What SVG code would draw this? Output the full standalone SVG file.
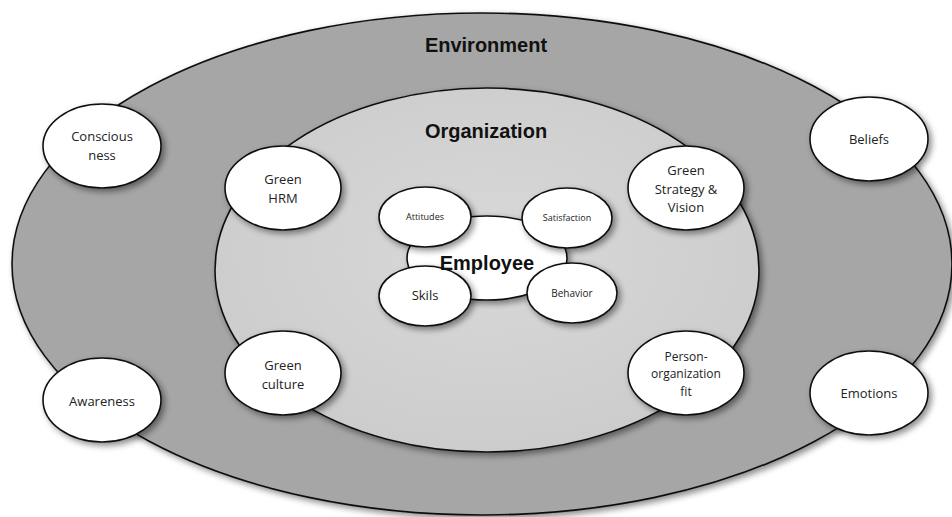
<svg xmlns="http://www.w3.org/2000/svg" width="952" height="517" viewBox="0 0 952 517">
<defs>
<filter id="sh" x="-20%" y="-20%" width="150%" height="150%">
<feDropShadow dx="3" dy="3" stdDeviation="3" flood-color="#000" flood-opacity="0.45"/>
</filter>
<radialGradient id="orgFill" cx="50%" cy="45%" r="60%">
<stop offset="0" stop-color="#d9d9d9"/>
<stop offset="1" stop-color="#cbcbcb"/>
</radialGradient>
</defs>
<style>
.ring{stroke:#111;stroke-width:1.6}
.node{fill:#fff;stroke:#111;stroke-width:1.6;filter:url(#sh)}
.t{font-family:"Open Sans","Liberation Sans",sans-serif;fill:#222;text-anchor:middle}
.m{font-size:13px}
.s{font-size:9px}
.b{font-family:"Liberation Sans","Open Sans",sans-serif;font-weight:bold;fill:#111;text-anchor:middle;font-size:20px}
</style>
<rect width="952" height="517" fill="#fff"/>
<g id="environment">
<ellipse class="ring" cx="482" cy="264" rx="470" ry="251" fill="#a6a6a6" filter="url(#sh)"/>
<text class="b" x="486" y="52">Environment</text>
</g>
<g id="organization">
<ellipse class="ring" cx="487" cy="270" rx="272" ry="182" fill="url(#orgFill)" filter="url(#sh)"/>
<text class="b" x="486" y="138">Organization</text>
</g>
<g id="employee-shape">
<ellipse class="node" cx="487" cy="258" rx="80" ry="42"/>
</g>
<g id="attitudes">
<ellipse class="node" cx="425" cy="217" rx="46" ry="30"/>
<text class="t s" x="425" y="220">Attitudes</text>
</g>
<g id="satisfaction">
<ellipse class="node" cx="567" cy="218" rx="45" ry="30"/>
<text class="t s" x="567" y="221">Satisfaction</text>
</g>
<g id="skils">
<ellipse class="node" cx="425" cy="296" rx="46" ry="30"/>
<text class="t" style="font-size:13px" x="425" y="300">Skils</text>
</g>
<g id="behavior">
<ellipse class="node" cx="572" cy="293" rx="45" ry="30"/>
<text class="t" style="font-size:10px" x="572" y="297">Behavior</text>
</g>
<g id="employee">
<text class="b" x="487" y="270">Employee</text>
</g>
<g id="consciousness">
<ellipse class="node" cx="102" cy="146" rx="59" ry="42"/>
<text class="t m" x="102" y="141">Conscious</text>
<text class="t m" x="102" y="160">ness</text>
</g>
<g id="green-hrm">
<ellipse class="node" cx="283" cy="188" rx="58" ry="42"/>
<text class="t m" x="283" y="184">Green</text>
<text class="t m" x="283" y="203">HRM</text>
</g>
<g id="green-strategy">
<ellipse class="node" cx="686" cy="188" rx="58" ry="42"/>
<text class="t m" x="686" y="175">Green</text>
<text class="t m" x="686" y="194">Strategy &amp;</text>
<text class="t m" x="686" y="212">Vision</text>
</g>
<g id="beliefs">
<ellipse class="node" cx="869" cy="139" rx="59" ry="42"/>
<text class="t m" x="869" y="144">Beliefs</text>
</g>
<g id="awareness">
<ellipse class="node" cx="102" cy="400" rx="59" ry="42"/>
<text class="t m" x="102" y="406">Awareness</text>
</g>
<g id="green-culture">
<ellipse class="node" cx="283" cy="373" rx="58" ry="42"/>
<text class="t m" x="283" y="370">Green</text>
<text class="t m" x="283" y="389">culture</text>
</g>
<g id="person-org-fit">
<ellipse class="node" cx="686" cy="373" rx="58" ry="42"/>
<text class="t" style="font-size:12px" x="686" y="361">Person-</text>
<text class="t" style="font-size:12px" x="686" y="378">organization</text>
<text class="t" style="font-size:12px" x="686" y="396">fit</text>
</g>
<g id="emotions">
<ellipse class="node" cx="869" cy="393" rx="59" ry="42"/>
<text class="t m" x="869" y="398">Emotions</text>
</g>
<g id="connectors"/>
</svg>
